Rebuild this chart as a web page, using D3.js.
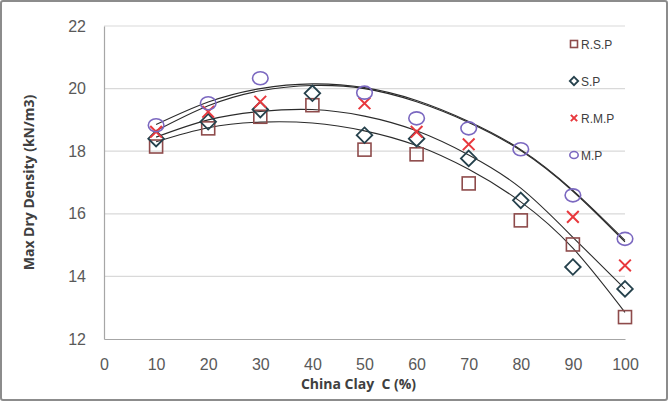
<!DOCTYPE html>
<html>
<head>
<meta charset="utf-8">
<script src="https://cdn.jsdelivr.net/npm/d3@7/dist/d3.min.js"></script>
<style>
  html, body { margin: 0; padding: 0; background: #fff; }
  svg { display: block; }
  text { font-family: "Open Sans", "Liberation Sans", sans-serif; }
</style>
</head>
<body>
<svg id="chart" width="668" height="401"></svg>
<script>
// China clay content (%)
const clay = [10, 20, 30, 40, 50, 60, 70, 80, 90, 100];

// Maximum dry density (kN/m3) for each mix; null where no test was made
const rsp = [18.15, 18.73, 19.10, 19.47, 18.05, 17.90, 16.97, 15.79, 15.02, 12.70];
const sp  = [18.40, 18.94, 19.33, 19.85, 18.51, 18.40, 17.77, 16.43, 14.30, 13.60];
const rmp = [18.62, 19.26, 19.58, null, 19.53, 18.62, 18.22, null, 15.90, 14.35];
const mp  = [18.83, 19.53, 20.33, null, 19.87, 19.05, 18.73, 18.06, 16.59, 15.20];

// Trendline values (kN/m3) at each clay content
const rspTrend = [18.30, 18.75, 18.93, 18.90, 18.65, 18.18, 17.42, 16.38, 14.90, 12.85];
const spTrend  = [18.45, 19.00, 19.27, 19.33, 19.12, 18.65, 17.88, 16.82, 15.25, 13.60];
const rmpTrend = [18.65, 19.45, 19.93, 20.10, 20.00, 19.58, 18.92, 18.02, 16.72, 15.10];
const mpTrend  = [18.85, 19.57, 20.00, 20.15, 20.03, 19.62, 18.95, 18.05, 16.75, 15.15];

const seriesNames = ["R.S.P", "S.P", "R.M.P", "M.P"];
const seriesValues = [rsp, sp, rmp, mp];
const trendValues = [rspTrend, spTrend, rmpTrend, mpTrend];

const xTicks = [0, 10, 20, 30, 40, 50, 60, 70, 80, 90, 100];
const yTicks = [12, 14, 16, 18, 20, 22];

const styles = {
  "R.S.P": { shape: "square",  color: "#8e4b4b" },
  "S.P":   { shape: "diamond", color: "#25414c" },
  "R.M.P": { shape: "cross",   color: "#e8383d" },
  "M.P":   { shape: "circle",  color: "#7b68c0" }
};

const svg = d3.select("#chart");
const W = 668, H = 401;
const m = { left: 104, right: 43, top: 26, bottom: 62 };

// outer frame
svg.append("rect")
  .attr("x", 1).attr("y", 1).attr("width", W - 2).attr("height", H - 2)
  .attr("rx", 2)
  .attr("fill", "#fff").attr("stroke", "#8c8c8c").attr("stroke-width", 2);

const x = d3.scaleLinear().domain([0, 100]).range([m.left, W - m.right]);
const y = d3.scaleLinear().domain([12, 22]).range([H - m.bottom, m.top]);

// horizontal gridlines
svg.append("g")
  .selectAll("line")
  .data(yTicks.slice(1))
  .join("line")
  .attr("x1", x(0)).attr("x2", x(100))
  .attr("y1", d => y(d)).attr("y2", d => y(d))
  .attr("stroke", "#d9d9d9").attr("stroke-width", 1.2);

// axes
const xAxis = svg.append("g")
  .attr("transform", `translate(0,${y(12)})`)
  .call(d3.axisBottom(x).tickValues(xTicks).tickSize(0).tickPadding(20));
const yAxis = svg.append("g")
  .attr("transform", `translate(${x(0)},0)`)
  .call(d3.axisLeft(y).tickValues(yTicks).tickSize(0).tickPadding(18));
[xAxis, yAxis].forEach(g => {
  g.select(".domain").attr("stroke", "#a6a6a6").attr("stroke-width", 1.2);
  g.selectAll("text").attr("fill", "#595959").attr("font-size", 16)
    .style("font-family", "'Liberation Sans', 'Open Sans', sans-serif");
});

// axis titles
svg.append("text")
  .attr("x", (x(0) + x(100)) / 2 - 6).attr("y", 389)
  .attr("text-anchor", "middle")
  .style("white-space", "pre")
  .attr("font-size", 14).attr("font-weight", "bold").attr("fill", "#404040")
  .text("China Clay  C (%)");
svg.append("text")
  .attr("transform", `translate(34,${(y(12) + y(22)) / 2}) rotate(-90)`)
  .attr("text-anchor", "middle")
  .attr("font-size", 14).attr("font-weight", "bold").attr("fill", "#404040")
  .text("Max Dry Density (kN/m3)");

// trendlines
const line = d3.line().x(d => x(d[0])).y(d => y(d[1])).curve(d3.curveNatural);
const gTrend = svg.append("g");
trendValues.forEach(vals => {
  const pts = clay.map((c, i) => [c, vals[i]]);
  gTrend.append("path").attr("d", line(pts))
    .attr("fill", "none").attr("stroke", "#2b2b2b").attr("stroke-width", 1.1);
});

// marker drawing
function drawMarker(g, shape, color, cx, cy, size) {
  if (shape === "square") {
    g.append("rect").attr("x", cx - size / 2).attr("y", cy - size / 2)
      .attr("width", size).attr("height", size)
      .attr("fill", "none").attr("stroke", color).attr("stroke-width", 1.6);
  } else if (shape === "diamond") {
    const r = size * 0.6;
    g.append("path").attr("d", `M${cx},${cy - r}L${cx + r},${cy}L${cx},${cy + r}L${cx - r},${cy}Z`)
      .attr("fill", "none").attr("stroke", color).attr("stroke-width", 1.8);
  } else if (shape === "cross") {
    const r = size * 0.45;
    g.append("path").attr("d", `M${cx - r},${cy - r}L${cx + r},${cy + r}M${cx + r},${cy - r}L${cx - r},${cy + r}`)
      .attr("fill", "none").attr("stroke", color).attr("stroke-width", 2);
  } else {
    g.append("ellipse").attr("cx", cx).attr("cy", cy).attr("rx", size * 0.6).attr("ry", size * 0.5)
      .attr("fill", "none").attr("stroke", color).attr("stroke-width", 1.6);
  }
}

const gMarks = svg.append("g");
seriesNames.forEach((name, si) => {
  const st = styles[name];
  seriesValues[si].forEach((v, i) => {
    if (v == null) return;
    drawMarker(gMarks, st.shape, st.color, x(clay[i]), y(v), 13);
  });
});

// legend
const legend = svg.append("g");
seriesNames.forEach((name, i) => {
  const ly = 44 + i * 37;
  drawMarker(legend, styles[name].shape, styles[name].color, 574, ly, 7);
  legend.append("text").attr("x", 581).attr("y", ly + 4.5)
    .attr("font-size", 12).attr("fill", "#404040")
    .style("font-family", "'Liberation Sans', sans-serif")
    .text(name);
});
</script>
</body>
</html>
